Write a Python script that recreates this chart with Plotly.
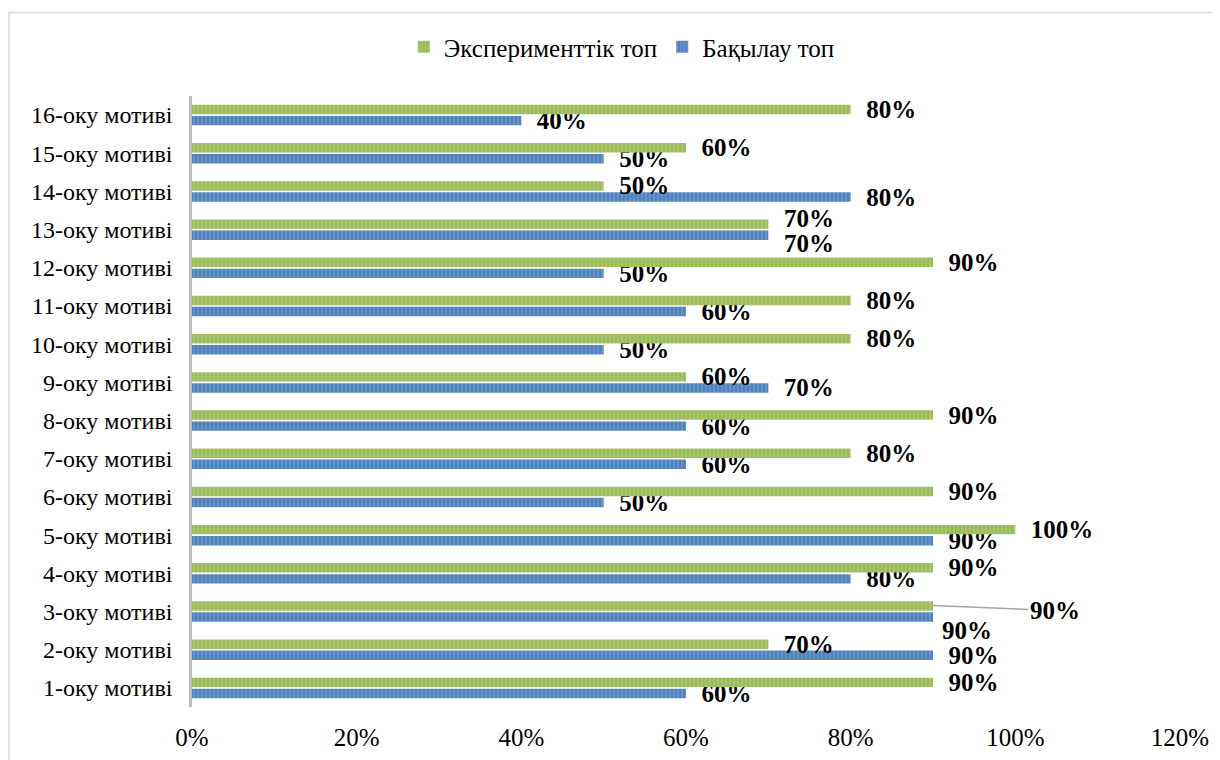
import plotly.graph_objects as go

categories = [f"{i}-оку мотиві" for i in range(1, 17)]
experimental = [0.9, 0.7, 0.9, 0.9, 1.0, 0.9, 0.8, 0.9, 0.6, 0.8, 0.8, 0.9, 0.7, 0.5, 0.6, 0.8]
control = [0.6, 0.9, 0.9, 0.8, 0.9, 0.5, 0.6, 0.6, 0.7, 0.5, 0.6, 0.5, 0.7, 0.8, 0.5, 0.4]
x_ticks = [0, 0.2, 0.4, 0.6, 0.8, 1.0, 1.2]
x_tick_labels = ["0%", "20%", "40%", "60%", "80%", "100%", "120%"]
series_names = ["Эксперименттік топ", "Бақылау топ"]

# labels that were moved by hand in the source chart: index -> (xshift px, yshift px from category centre)
moved_exp = {12: (14, 11)}
moved_ctl = {2: (7, -19), 12: (14, -14)}
leader_exp = {2: (122, 5)}  # label pulled out with a leader line

FONT = "Liberation Serif"
GREEN, GREEN_L = "#9BBB59", "#BDD291"
BLUE, BLUE_L = "#4F81BD", "#8AABD5"
LBL = dict(family=FONT, size=25, color="black")

def pct(v):
    return f"{round(v * 100)}%"

hide_exp = set(moved_exp) | set(leader_exp)
exp_text = ["" if i in hide_exp else "  " + pct(v) for i, v in enumerate(experimental)]
ctl_text = ["" if i in moved_ctl else "  " + pct(v) for i, v in enumerate(control)]

fig = go.Figure()
fig.add_trace(go.Bar(
    y=categories, x=control, orientation="h", name=series_names[1],
    marker=dict(color=BLUE, line=dict(width=0),
                pattern=dict(shape="|", fgcolor=BLUE_L, bgcolor=BLUE, size=4, solidity=0.4)),
    text=ctl_text, textposition="outside", constraintext="none", cliponaxis=False,
    textfont=dict(LBL, weight="bold"),
))
fig.add_trace(go.Bar(
    y=categories, x=experimental, orientation="h", name=series_names[0],
    marker=dict(color=GREEN, line=dict(width=0),
                pattern=dict(shape="|", fgcolor=GREEN_L, bgcolor=GREEN, size=4, solidity=0.4)),
    text=exp_text, textposition="outside", constraintext="none", cliponaxis=False,
    textfont=dict(LBL, weight="bold"),
))

for i, (ax, ay) in leader_exp.items():
    fig.add_annotation(
        x=experimental[i], y=categories[i], yshift=6, text="<b>" + pct(experimental[i]) + "</b>",
        showarrow=True, arrowhead=0, arrowwidth=1.5, arrowcolor="#A6A6A6",
        ax=ax, ay=ay, axref="pixel", ayref="pixel", font=LBL,
    )
for vals, moved in ((experimental, moved_exp), (control, moved_ctl)):
    for i, (dx, dy) in moved.items():
        fig.add_annotation(
            x=vals[i], y=categories[i], xanchor="left", xshift=dx, yshift=dy,
            text="<b>" + pct(vals[i]) + "</b>", showarrow=False, font=LBL,
        )

fig.add_shape(type="rect", xref="paper", yref="paper", x0=-0.1852, x1=1.06, y0=-0.12, y1=1.1368,
              line=dict(color="#D9D9D9", width=1.5), fillcolor="rgba(0,0,0,0)", layer="below")

fig.update_layout(
    width=1212, height=752,
    margin=dict(l=184, r=40, t=88, b=53, autoexpand=False),
    paper_bgcolor="white", plot_bgcolor="white",
    barmode="group", bargap=0.42, bargroupgap=0.15,
    font=dict(family=FONT, size=25, color="black"),
    showlegend=True,
    legend=dict(orientation="h", x=0.435, xanchor="center", y=1.08, yanchor="middle",
                traceorder="reversed", font=dict(family=FONT, size=25, color="black"),
                itemwidth=30, bgcolor="rgba(0,0,0,0)"),
    xaxis=dict(range=[0, 1.2], tickvals=x_ticks, ticktext=x_tick_labels, showgrid=False,
               zeroline=False, showline=False, ticks="", ticklabelstandoff=13, automargin=False,
               tickfont=dict(family=FONT, size=25, color="black"), fixedrange=True),
    yaxis=dict(categoryorder="array", categoryarray=categories, showgrid=False, automargin=False,
               showline=True, linecolor="#BFBFBF", linewidth=2.5, ticks="",
               ticklabelstandoff=12, tickfont=dict(family=FONT, size=24, color="black")),
)

fig.write_html("out.html")
